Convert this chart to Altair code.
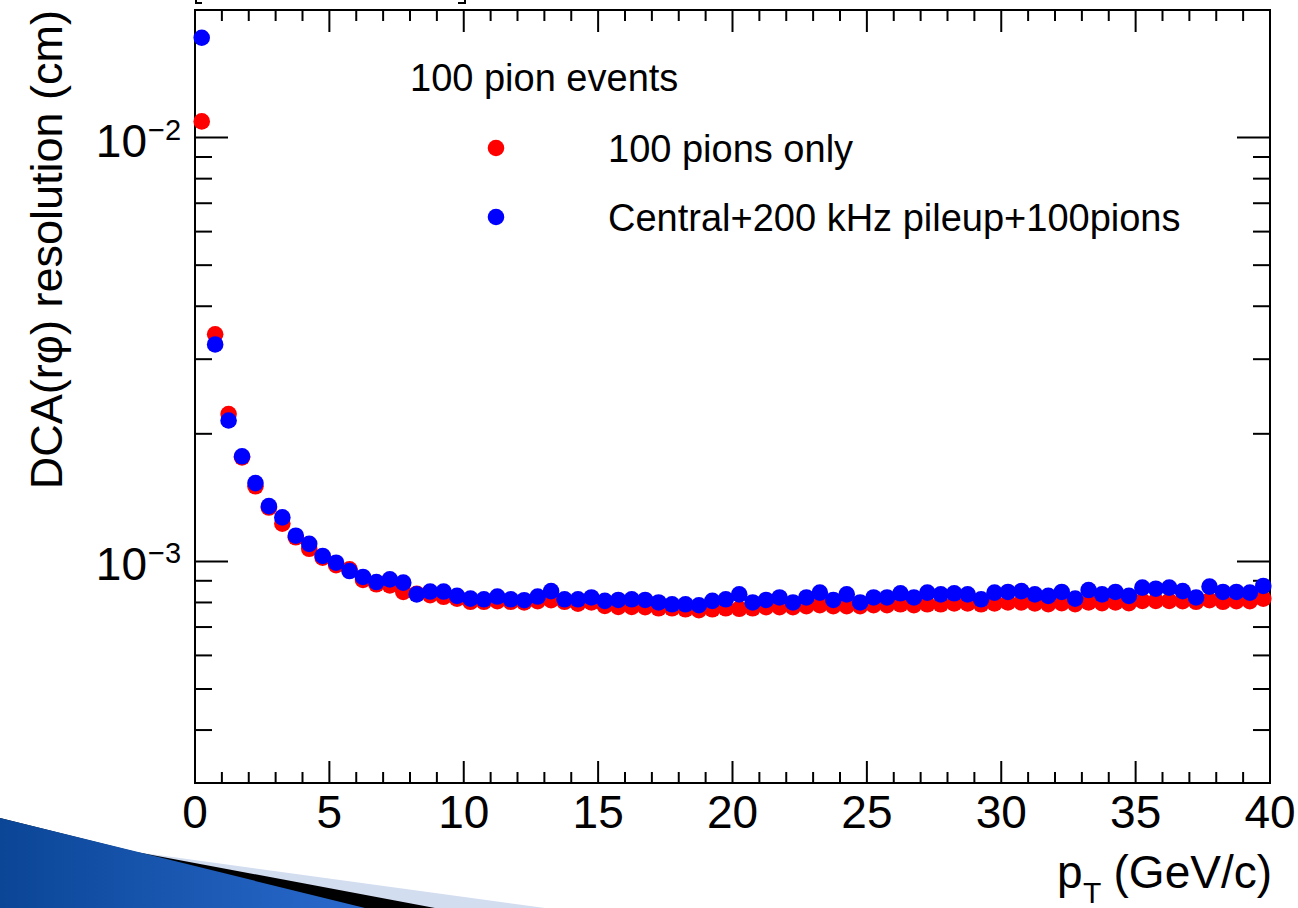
import altair as alt
import pandas as pd

# ---------------------------------------------------------------- data
# pT bin centres (GeV/c), 0.5 GeV wide bins
pt_bins = [
    0.25, 0.75, 1.25, 1.75, 2.25, 2.75, 3.25, 3.75, 4.25, 4.75,
    5.25, 5.75, 6.25, 6.75, 7.25, 7.75, 8.25, 8.75, 9.25, 9.75,
    10.25, 10.75, 11.25, 11.75, 12.25, 12.75, 13.25, 13.75, 14.25, 14.75,
    15.25, 15.75, 16.25, 16.75, 17.25, 17.75, 18.25, 18.75, 19.25, 19.75,
    20.25, 20.75, 21.25, 21.75, 22.25, 22.75, 23.25, 23.75, 24.25, 24.75,
    25.25, 25.75, 26.25, 26.75, 27.25, 27.75, 28.25, 28.75, 29.25, 29.75,
    30.25, 30.75, 31.25, 31.75, 32.25, 32.75, 33.25, 33.75, 34.25, 34.75,
    35.25, 35.75, 36.25, 36.75, 37.25, 37.75, 38.25, 38.75, 39.25, 39.75,
]

# DCA(r-phi) resolution (cm), 100 pions only
dca_pions_only = [
    0.01092, 0.003434, 0.002226, 0.00176, 0.001504, 0.00134, 0.001228, 0.00114, 0.001071, 0.00102,
    0.00098, 0.000958, 0.000904, 0.000883, 0.000878, 0.000847, 0.000839, 0.000832, 0.000825, 0.000817,
    0.000803, 0.000803, 0.000806, 0.000803, 0.000800, 0.000806, 0.000810, 0.000803, 0.000795, 0.000800,
    0.000785, 0.000781, 0.000781, 0.000780, 0.000775, 0.000775, 0.000771, 0.000767, 0.000771, 0.000775,
    0.000773, 0.000775, 0.000780, 0.000780, 0.000780, 0.000784, 0.000788, 0.000784, 0.000784, 0.000784,
    0.000788, 0.000788, 0.000792, 0.000788, 0.000792, 0.000792, 0.000796, 0.000796, 0.000792, 0.000796,
    0.000800, 0.000800, 0.000796, 0.000793, 0.000797, 0.000793, 0.000800, 0.000797, 0.000800, 0.000797,
    0.000807, 0.000807, 0.000807, 0.000806, 0.000803, 0.000810, 0.000803, 0.000806, 0.000806, 0.000817,
]

# DCA(r-phi) resolution (cm), central + 200 kHz pileup + 100 pions
dca_with_pileup = [
    0.0172, 0.00325, 0.00215, 0.00177, 0.00153, 0.00135, 0.00127, 0.00115, 0.00110, 0.00103,
    0.000993, 0.000949, 0.000919, 0.000894, 0.000907, 0.000891, 0.000836, 0.000849, 0.000849, 0.000829,
    0.000817, 0.000814, 0.000826, 0.000814, 0.000810, 0.000826, 0.000851, 0.000814, 0.000814, 0.000822,
    0.000807, 0.000811, 0.000814, 0.000811, 0.000800, 0.000792, 0.000792, 0.000788, 0.000807, 0.000814,
    0.000836, 0.000800, 0.000811, 0.000822, 0.000800, 0.000822, 0.000844, 0.000811, 0.000836, 0.000800,
    0.000822, 0.000822, 0.000841, 0.000822, 0.000844, 0.000836, 0.000841, 0.000836, 0.000814, 0.000844,
    0.000847, 0.000851, 0.000836, 0.000829, 0.000847, 0.000817, 0.000856, 0.000836, 0.000847, 0.000829,
    0.000867, 0.000862, 0.000867, 0.000851, 0.000822, 0.000872, 0.000847, 0.000847, 0.000844, 0.000875,
]

series_names = ["100 pions only", "Central+200 kHz pileup+100pions"]
series_colors = ["#ff0000", "#0000ff"]
legend_header = "100 pion events"

# axis ticks and labels
x_major = [0, 5, 10, 15, 20, 25, 30, 35, 40]
x_minor = [v for v in range(0, 41) if v % 5 != 0]
y_major = [0.001, 0.01]
y_major_exp = ["\u22123", "\u22122"]
y_minor = [0.0004, 0.0005, 0.0006, 0.0007, 0.0008, 0.0009,
           0.002, 0.003, 0.004, 0.005, 0.006, 0.007, 0.008, 0.009]

# ---------------------------------------------------------------- layout
W, H = 1075, 773
PAD = {"left": 195, "top": 10, "right": 28, "bottom": 125}
FONT = "Liberation Sans"
INK = "black"
DOT = 275

xs = alt.Scale(domain=[0, 40], nice=False, zero=False)
ys = alt.Scale(type="log", domain=[0.0003, 0.02], nice=False)


def one_row(**kw):
    return pd.DataFrame({k: [v] for k, v in kw.items()})


# ---------------------------------------------------------------- markers
n = len(pt_bins)
points_df = pd.DataFrame({
    "pt": pt_bins + pt_bins,
    "dca": dca_pions_only + dca_with_pileup,
    "series": [series_names[0]] * n + [series_names[1]] * n,
})
color_scale = alt.Scale(domain=series_names, range=series_colors)

points = alt.Chart(points_df).mark_circle(size=DOT, opacity=1).encode(
    x=alt.X("pt:Q", scale=xs, axis=None),
    y=alt.Y("dca:Q", scale=ys, axis=None),
    color=alt.Color("series:N", scale=color_scale, legend=None),
)


# ---------------------------------------------------------------- inward ticks (ROOT style)
def x_ticks(vals, length):
    df = pd.DataFrame({"v": vals})
    enc_x = alt.X("v:Q", scale=xs, axis=None)
    bottom = alt.Chart(df).mark_rule(color=INK, strokeWidth=2).encode(
        x=enc_x, y=alt.value(H), y2=alt.value(H - length))
    top = alt.Chart(df).mark_rule(color=INK, strokeWidth=2).encode(
        x=enc_x, y=alt.value(0), y2=alt.value(length))
    return [bottom, top]


def y_ticks(vals, length):
    df = pd.DataFrame({"v": vals})
    enc_y = alt.Y("v:Q", scale=ys, axis=None)
    left = alt.Chart(df).mark_rule(color=INK, strokeWidth=2).encode(
        y=enc_y, x=alt.value(0), x2=alt.value(length))
    right = alt.Chart(df).mark_rule(color=INK, strokeWidth=2).encode(
        y=enc_y, x=alt.value(W - length), x2=alt.value(W))
    return [left, right]


ticks = x_ticks(x_major, 22) + x_ticks(x_minor, 11) + y_ticks(y_major, 33) + y_ticks(y_minor, 17)

# ---------------------------------------------------------------- tick labels
xlab_df = pd.DataFrame({"v": x_major, "lab": [str(v) for v in x_major]})
x_labels = alt.Chart(xlab_df).mark_text(
    font=FONT, fontSize=46, align="center", baseline="alphabetic", color=INK
).encode(x=alt.X("v:Q", scale=xs, axis=None), y=alt.value(H + 45), text="lab:N")

ylab_df = pd.DataFrame({"v": y_major, "base": ["10"] * len(y_major), "exp": y_major_exp})
y_label_base = alt.Chart(ylab_df).mark_text(
    font=FONT, fontSize=46, align="right", baseline="alphabetic", dy=19, color=INK
).encode(y=alt.Y("v:Q", scale=ys, axis=None), x=alt.value(-48), text="base:N")
y_label_exp = alt.Chart(ylab_df).mark_text(
    font=FONT, fontSize=29, align="left", baseline="alphabetic", dy=2, color=INK
).encode(y=alt.Y("v:Q", scale=ys, axis=None), x=alt.value(-47), text="exp:N")

# ---------------------------------------------------------------- axis titles
y_title = alt.Chart(one_row(t="DCA(r\u03c6) resolution (cm)")).mark_text(
    font=FONT, fontSize=45, angle=270, align="right", baseline="alphabetic", color=INK
).encode(x=alt.value(-133), y=alt.value(0), text="t:N")

x_title_unit = alt.Chart(one_row(t="(GeV/c)")).mark_text(
    font=FONT, fontSize=46, align="right", baseline="alphabetic", color=INK
).encode(x=alt.value(1077), y=alt.value(878), text="t:N")
x_title_p = alt.Chart(one_row(t="p")).mark_text(
    font=FONT, fontSize=46, align="left", baseline="alphabetic", color=INK
).encode(x=alt.value(862), y=alt.value(878), text="t:N")
x_title_sub = alt.Chart(one_row(t="T")).mark_text(
    font=FONT, fontSize=30, align="left", baseline="alphabetic", color=INK
).encode(x=alt.value(888), y=alt.value(893), text="t:N")

# ---------------------------------------------------------------- legend
legend_title = alt.Chart(one_row(t=legend_header)).mark_text(
    font=FONT, fontSize=38, align="left", baseline="alphabetic", color=INK
).encode(x=alt.value(215), y=alt.value(81), text="t:N")

legend_items = []
for name, col, yy in zip(series_names, series_colors, [138, 207]):
    legend_items.append(
        alt.Chart(one_row(t=name)).mark_circle(size=DOT, opacity=1, color=col).encode(
            x=alt.value(301), y=alt.value(yy))
    )
    legend_items.append(
        alt.Chart(one_row(t=name)).mark_text(
            font=FONT, fontSize=38, align="left", baseline="alphabetic", color=INK
        ).encode(x=alt.value(413), y=alt.value(yy + 14), text="t:N")
    )

# ---------------------------------------------------------------- title box corners peeking in at the top
corner_specs = [
    (1, 1, -10, -6), (0, 7, -7, -7),          # left corner
    (270, 270, -10, -6), (263, 270, -7, -7),  # right corner
]
corners = [
    alt.Chart(one_row(k=i)).mark_rule(color=INK, strokeWidth=2).encode(
        x=alt.value(a), x2=alt.value(b), y=alt.value(c), y2=alt.value(d))
    for i, (a, b, c, d) in enumerate(corner_specs)
]

# ---------------------------------------------------------------- slide banner in the lower-left corner
BOTTOM = H + PAD["bottom"]


def banner_shape(xs_px, ys_px):
    return pd.DataFrame({"px": xs_px, "py": ys_px, "pb": [BOTTOM] * len(xs_px)})


banner_light = banner_shape([-195, -59, 350], [808, 842, BOTTOM])
banner_dark = banner_shape([-195, -59, 240], [808, 842, BOTTOM])
banner_blue = banner_shape([-195, 170], [808, BOTTOM])


def banner(df, fill):
    return alt.Chart(df).mark_area(color=fill, opacity=1).encode(
        x=alt.X("px:Q", scale=None, axis=None),
        y=alt.Y("py:Q", scale=None, axis=None),
        y2=alt.Y2("pb:Q"),
    )


blue_gradient = alt.LinearGradient(
    gradient="linear",
    stops=[alt.GradientStop(color="#0a4596", offset=0),
           alt.GradientStop(color="#2a6acd", offset=1)],
    x1=0, x2=1, y1=0, y2=0,
)
banners = [banner(banner_light, "#d3ddf0"), banner(banner_dark, "#000000"),
           banner(banner_blue, blue_gradient)]

# ---------------------------------------------------------------- assemble
chart = alt.layer(
    *banners, *corners, *ticks, points,
    x_labels, y_label_base, y_label_exp,
    y_title, x_title_unit, x_title_p, x_title_sub,
    legend_title, *legend_items,
).resolve_scale(
    x="independent", y="independent"
).properties(
    width=W, height=H, padding=PAD,
    autosize=alt.AutoSizeParams(type="none"),
    background="white",
).configure_view(stroke=INK, strokeWidth=2)

chart.save("out.html", embed_options={"renderer": "svg", "actions": False})
